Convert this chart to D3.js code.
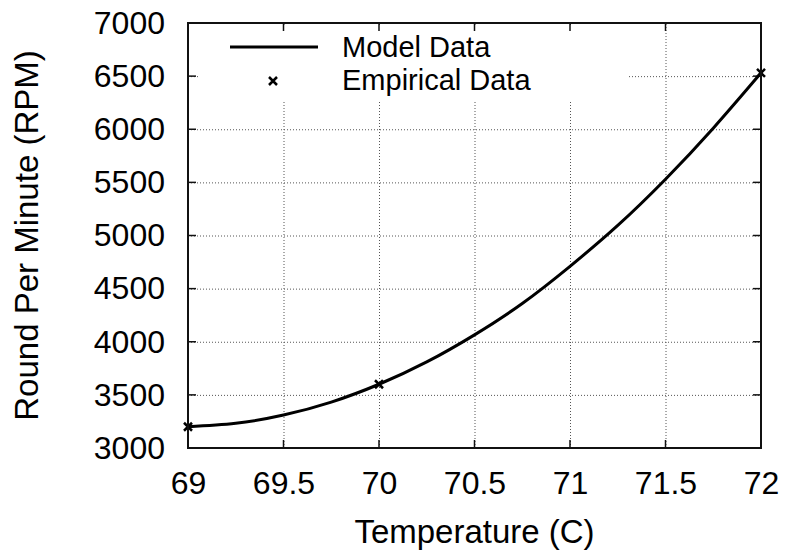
<!DOCTYPE html>
<html>
<head>
<meta charset="utf-8">
<script src="https://cdn.jsdelivr.net/npm/d3@7"></script>
<style>
  body { margin: 0; background: #fff; }
  svg { display: block; font-family: "Liberation Sans", Arial, Helvetica, sans-serif; }
</style>
</head>
<body>
<div id="chart"></div>
<script>
// model curve
const modelTemp = [69, 69.25, 69.5, 69.75, 70, 70.25, 70.5, 70.75, 71, 71.25, 71.5, 71.75, 72];
const modelRpm  = [3200, 3232, 3310, 3432, 3600, 3810, 4065, 4360, 4710, 5095, 5530, 6010, 6530];

// measured points
const empTemp = [69, 70, 72];
const empRpm  = [3200, 3600, 6530];

const xTicks = [69, 69.5, 70, 70.5, 71, 71.5, 72];
const yTicks = [3000, 3500, 4000, 4500, 5000, 5500, 6000, 6500, 7000];

const W = 788, H = 551;
const m = {t:23, l:188, r:27, b:103};
const w = W - m.l - m.r;
const h = H - m.t - m.b;

const scaleX = d3.scaleLinear().domain([69, 72]).range([0, w]);
const scaleY = d3.scaleLinear().domain([3000, 7000]).range([h, 0]);

const svg = d3.select("#chart").append("svg")
	.attr("width", W)
	.attr("height", H);

const plot = svg.append("g")
	.attr("transform", `translate(${m.l},${m.t})`);

// dotted grid
const gridX = plot.append("g")
	.attr("transform", `translate(0,${h})`)
	.call(d3.axisBottom(scaleX).tickValues(xTicks).tickSize(-h).tickFormat(""));
const gridY = plot.append("g")
	.call(d3.axisLeft(scaleY).tickValues(yTicks).tickSize(-w).tickFormat(""));
[gridX, gridY].forEach(g => {
	g.select(".domain").remove();
	g.selectAll("line")
		.attr("stroke", "#555")
		.attr("stroke-width", 1)
		.attr("stroke-dasharray", "1,2");
});

// legend background hides the grid
plot.append("rect")
	.attr("x", 12).attr("y", 2)
	.attr("width", 427).attr("height", 75)
	.attr("fill", "#fff");

// inner tick marks on all four sides
const tk = 8;
const ticks = plot.append("g").attr("stroke", "#111").attr("stroke-width", 1.5);
xTicks.forEach(v => {
	ticks.append("line").attr("x1", scaleX(v)).attr("x2", scaleX(v)).attr("y1", h).attr("y2", h - tk);
	ticks.append("line").attr("x1", scaleX(v)).attr("x2", scaleX(v)).attr("y1", 0).attr("y2", tk);
});
yTicks.forEach(v => {
	ticks.append("line").attr("y1", scaleY(v)).attr("y2", scaleY(v)).attr("x1", 0).attr("x2", tk);
	ticks.append("line").attr("y1", scaleY(v)).attr("y2", scaleY(v)).attr("x1", w).attr("x2", w - tk);
});

// tick labels
const axisX = plot.append("g")
	.attr("transform", `translate(0,${h})`)
	.call(d3.axisBottom(scaleX).tickValues(xTicks).tickSize(0).tickPadding(23).tickFormat(d3.format("")));
const axisY = plot.append("g")
	.call(d3.axisLeft(scaleY).tickValues(yTicks).tickSize(0).tickPadding(23).tickFormat(d3.format("")));
[axisX, axisY].forEach(g => {
	g.select(".domain").remove();
	g.selectAll("text")
		.attr("fill", "#000")
		.style("font-size", "32px")
		.style("font-family", "'Liberation Sans', Arial, sans-serif");
});

// model line
const lineGenerator = d3.line()
	.x(d => scaleX(d[0]))
	.y(d => scaleY(d[1]))
	.curve(d3.curveNatural);

plot.append("path")
	.datum(modelTemp.map((t, i) => [t, modelRpm[i]]))
	.attr("d", lineGenerator)
	.attr("fill", "none")
	.attr("stroke", "#000")
	.attr("stroke-width", 3);

// cross markers
const cross = (g, cx, cy) => {
	const s = 4;
	g.append("path")
		.attr("d", `M${cx - s},${cy - s}L${cx + s},${cy + s}M${cx - s},${cy + s}L${cx + s},${cy - s}`)
		.attr("stroke", "#000")
		.attr("stroke-width", 2.5)
		.attr("fill", "none");
};
const marks = plot.append("g");
empTemp.forEach((t, i) => cross(marks, scaleX(t), scaleY(empRpm[i])));

// frame
plot.append("rect")
	.attr("width", w).attr("height", h)
	.attr("fill", "none")
	.attr("stroke", "#111")
	.attr("stroke-width", 2);

// legend
const legend = plot.append("g").style("font-size", "29px");
legend.append("line")
	.attr("x1", 42).attr("x2", 130)
	.attr("y1", 24).attr("y2", 24)
	.attr("stroke", "#000").attr("stroke-width", 3);
legend.append("text").attr("x", 154).attr("y", 34).text("Model Data");
cross(legend, 85, 58);
legend.append("text").attr("x", 154).attr("y", 67).text("Empirical Data");

// axis titles
svg.append("text")
	.attr("x", m.l + w / 2)
	.attr("y", 543)
	.attr("text-anchor", "middle")
	.style("font-size", "33px")
	.text("Temperature (C)");

svg.append("text")
	.attr("transform", `translate(38,${m.t + h / 2}) rotate(-90)`)
	.attr("text-anchor", "middle")
	.style("font-size", "33px")
	.text("Round Per Minute (RPM)");
</script>
</body>
</html>
